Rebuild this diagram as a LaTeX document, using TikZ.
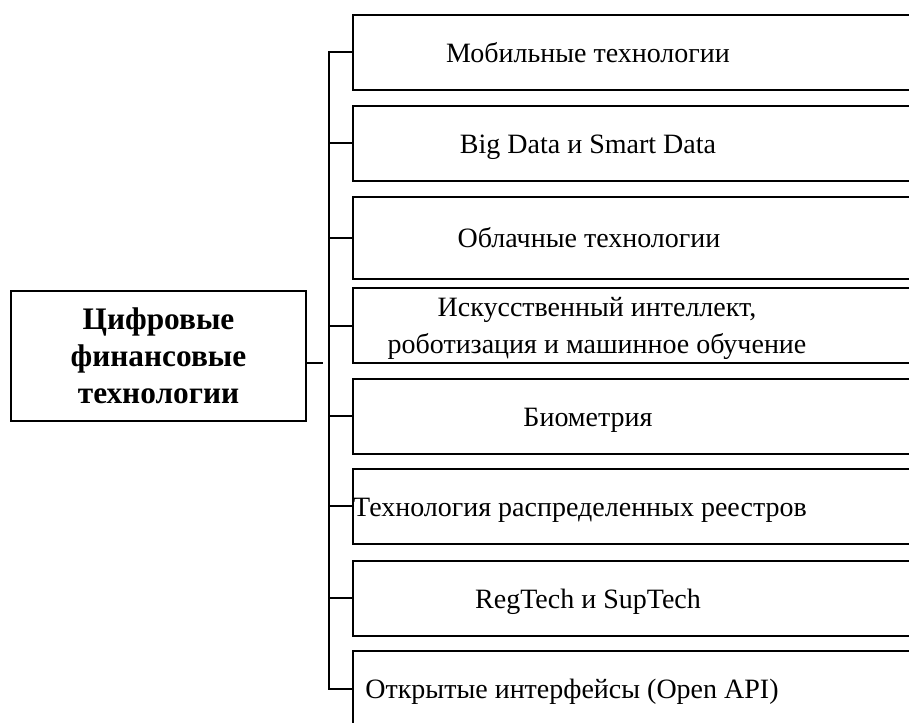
\documentclass[tikz,border=0pt]{standalone}
\usepackage{fontspec}
\setmainfont{Liberation Serif}
\begin{document}
\begin{tikzpicture}[x=0.75pt,y=-0.75pt,
  frame/.style={draw=black, line width=1.3pt, rectangle, inner sep=0pt,
    minimum width=525pt, minimum height=56.25pt, anchor=west},
  mainbox/.style={draw=black, line width=1.3pt, rectangle, inner sep=0pt,
    minimum width=221.25pt, minimum height=97.5pt},
  lbl/.style={anchor=base, inner sep=0pt, font=\fontsize{21}{27.75}\selectfont, align=center},
  mainlbl/.style={anchor=base, inner sep=0pt, font=\fontsize{23.5}{27.75}\selectfont\bfseries, align=center},
  branch/.style={line width=1.3pt},
  trunk/.style={line width=1.7pt}]
\useasboundingbox (0,0) rectangle (909,722);
\clip (0,0) rectangle (909,722);
\fill[white] (0,0) rectangle (909,722);

% main box
\node[mainbox] (main) at (158.5,356) {};
\node[mainlbl] (mt) at (158.5,403) {Цифровые\\финансовые\\технологии};

% right boxes
\node[frame] (b1) at (352,52.5) {};
\node[frame] (b2) at (352,143.5) {};
\node[frame, minimum height=61.5pt] (b3) at (352,238) {};
\node[frame] (b4) at (352,325.5) {};
\node[frame] (b5) at (352,416.5) {};
\node[frame] (b6) at (352,506.5) {};
\node[frame] (b7) at (352,598.5) {};
\node[frame] (b8) at (352,688.5) {};

\node[lbl] (t1) at (588,62) {Мобильные технологии};
\node[lbl] (t2) at (588,153) {Big Data и Smart Data};
\node[lbl] (t3) at (589,247.5) {Облачные технологии};
\node[lbl] (t4) at (597,353.5) {Искусственный интеллект,\\роботизация и машинное обучение};
\node[lbl] (t5) at (588,426) {Биометрия};
\node[lbl] (t6) at (580,516) {Технология распределенных реестров};
\node[lbl] (t7) at (588,608) {RegTech и SupTech};
\node[lbl] (t8) at (572,698) {Открытые интерфейсы (Open API)};

% trunk
\coordinate (k1) at (329,52);
\coordinate (k2) at (329,143);
\coordinate (k3) at (329,238);
\coordinate (k4) at (329,326);
\coordinate (k5) at (329,416);
\coordinate (k6) at (329,506);
\coordinate (k7) at (329,598);
\coordinate (k8) at (329,689);
\draw[trunk] (k1 -| b1.west) -- (k1) -- (k8) -- (k8 -| b8.west);
\foreach \i in {2,...,7} {\draw[branch] (k\i) -- (k\i -| b\i.west);}

% main connector
\coordinate (mc) at (323,363);
\draw[branch] (main.east |- mc) -- (mc);
\end{tikzpicture}
\end{document}
